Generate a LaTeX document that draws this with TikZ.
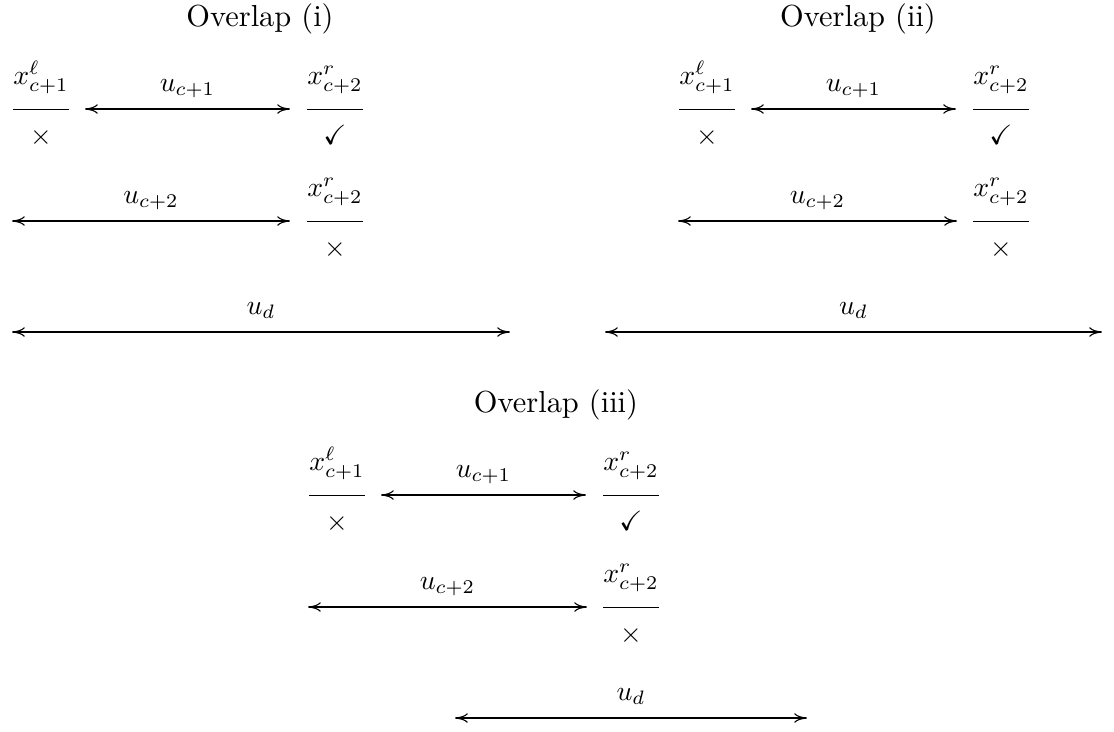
\documentclass[tikz,border=0pt]{standalone}
\usepackage{amsmath,amssymb}
\usetikzlibrary{arrows.meta}
\newcommand{\numstrut}{\rule[-7.4pt]{0pt}{7.4pt}}
\newcommand{\denstrut}{\rule{0pt}{11.3pt}}
\newcommand{\myfrac}[2]{\dfrac{#1\numstrut}{\denstrut#2}}
\begin{document}
\begin{tikzpicture}[x=0.36pt,y=-0.36pt,
  frac/.style={anchor=base,inner sep=0pt},
  lab/.style={anchor=base,inner sep=0pt,yshift=6.4pt},
  ttl/.style={inner sep=0pt,font=\fontsize{10.95pt}{13pt}\selectfont},
  arr/.style={{To[length=4.6pt,width=3.4pt]}-{To[length=4.6pt,width=3.4pt]}}]
\useasboundingbox (0,0) rectangle (1114,731);
\foreach \id/\dy/\ttext/\ua/\ub/\da/\db/\tx/\ax in {
  p/0/(i)/12/290/12/510/260/0,
  q/0/(ii)/678/957/605/1102/858/666,
  r/386/(iii)/308/587/455/807/556/296} {
  \begin{scope}[shift={(\ax,\dy)}]
  \node[ttl] (t\id) at (\tx-\ax,19) {Overlap \ttext};
  \node[frac] (fa\id) at (41,116) {$\myfrac{x^{\ell}_{c+1}}{\times}$};
  \node[frac] (fb\id) at (335,116) {$\myfrac{x^{r}_{c+2}}{\checkmark}$};
  \node[frac] (fc\id) at (335,228) {$\myfrac{x^{r}_{c+2}}{\times}$};
  \coordinate (a1\id) at (85,109);
  \coordinate (b1\id) at (290,109);
  \coordinate (a2\id) at (\ua-\ax,221);
  \coordinate (b2\id) at (\ub-\ax,221);
  \coordinate (a3\id) at (\da-\ax,332);
  \coordinate (b3\id) at (\db-\ax,332);
  \draw[arr] (a1\id) -- node[lab]{$u_{c+1}$} (b1\id);
  \draw[arr] (a2\id) -- node[lab]{$u_{c+2}$} (b2\id);
  \draw[arr] (a3\id) -- node[lab]{$u_{d}$} (b3\id);
  \end{scope}
}
\end{tikzpicture}
\end{document}
